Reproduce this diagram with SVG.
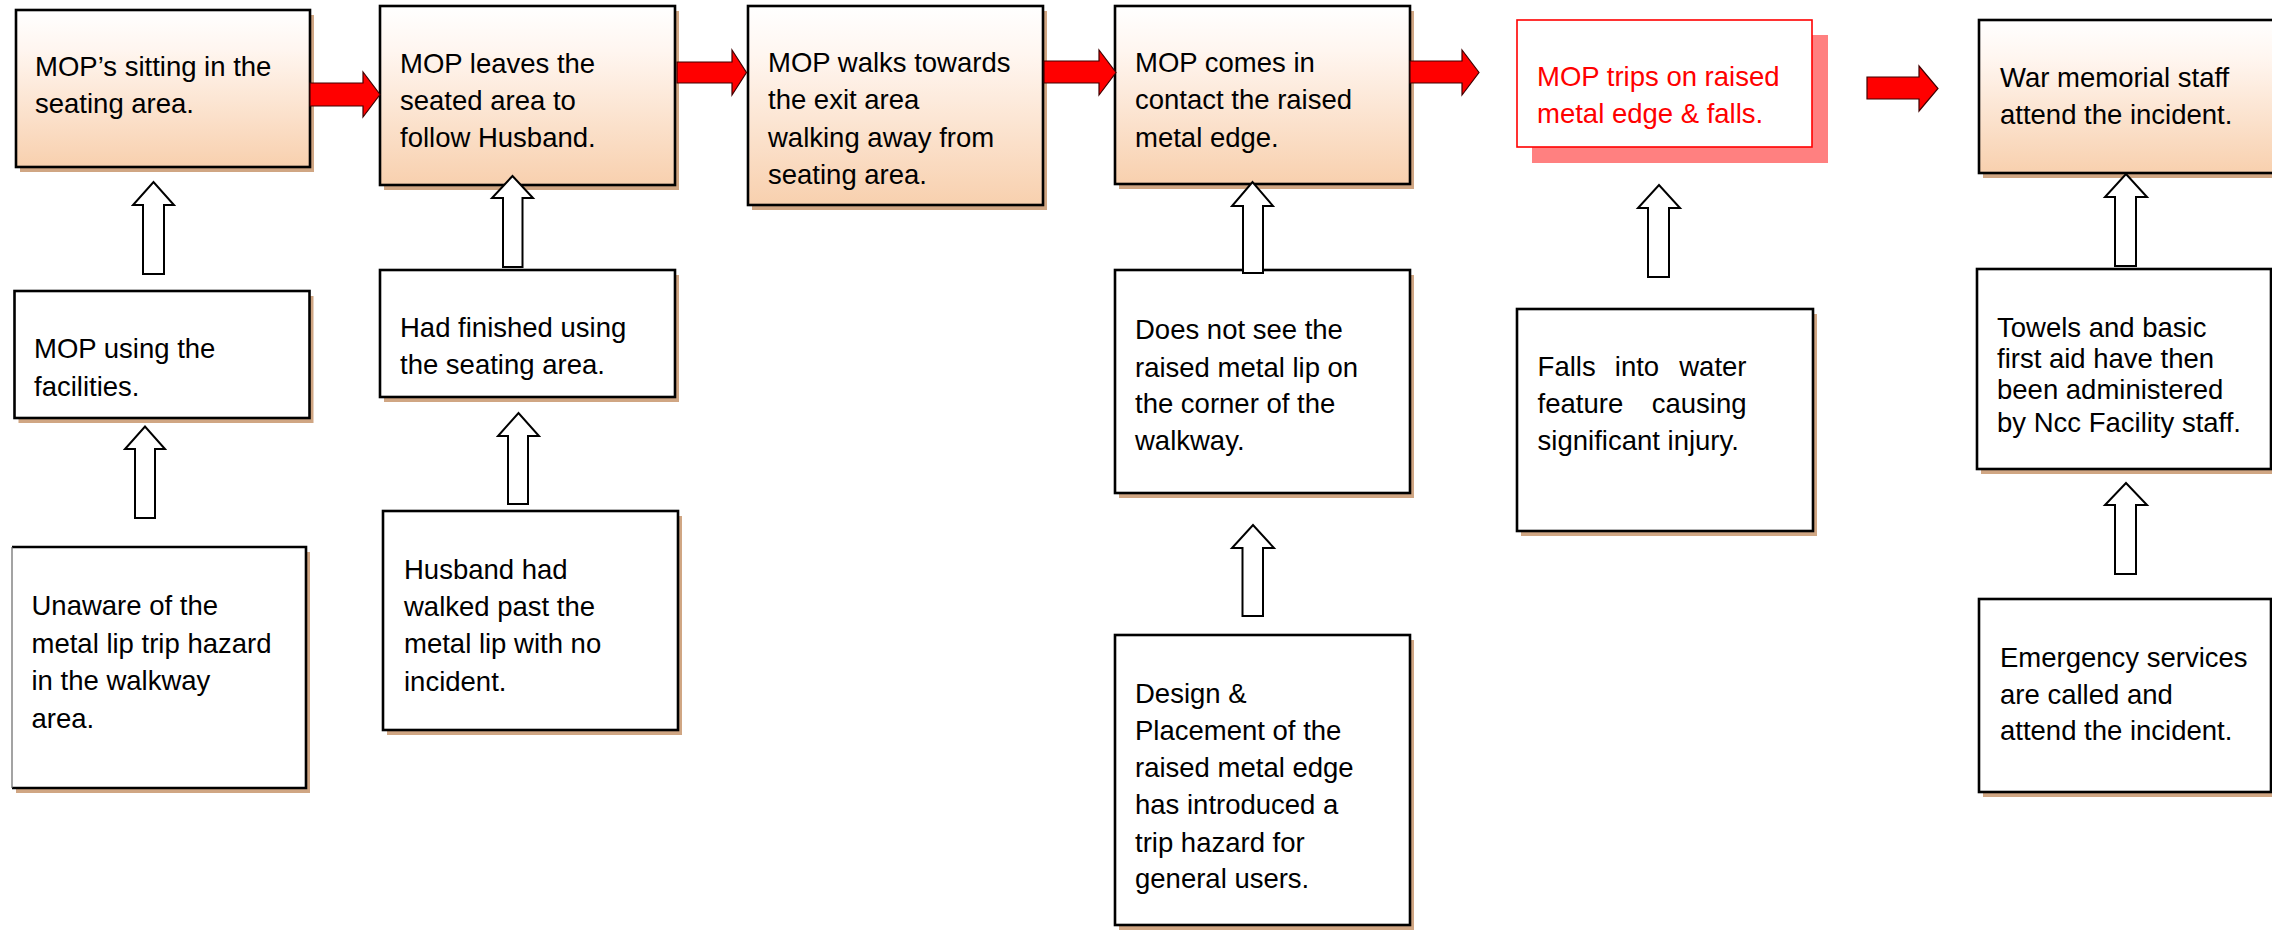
<svg xmlns="http://www.w3.org/2000/svg" width="2272" height="930" viewBox="0 0 2272 930">
<defs>
<linearGradient id="peach" x1="0" y1="0" x2="0" y2="1">
<stop offset="0" stop-color="#ffffff"/>
<stop offset="0.25" stop-color="#fff6f0"/>
<stop offset="1" stop-color="#f8d0ae"/>
</linearGradient>
<style>
.sh{fill:#d0a683}
.bx{fill:#ffffff;stroke:#000;stroke-width:2.6}
.gb{fill:url(#peach);stroke:#000;stroke-width:2.6}
.t{font-family:"Liberation Sans",Arial,sans-serif;font-size:27.5px;fill:#000}
.rt{fill:#ff0000}
.ra{fill:#ff0000;stroke:#400000;stroke-width:1.2;stroke-linejoin:miter}
.ua{fill:#ffffff;stroke:#000;stroke-width:2;stroke-linejoin:miter}
</style>
</defs>
<rect width="2272" height="930" fill="#ffffff"/>
<g id="nodes">
<g id="n1">
<rect class="sh" x="20" y="15" width="294" height="157"/>
<rect class="gb" x="16" y="10" width="294" height="157"/>
<text class="t" x="35" y="76">MOP’s sitting in the</text>
<text class="t" x="35" y="113">seating area.</text>
</g>
<g id="n2">
<rect class="sh" x="384" y="11" width="295" height="179"/>
<rect class="gb" x="380" y="6" width="295" height="179"/>
<text class="t" x="400" y="73">MOP leaves the</text>
<text class="t" x="400" y="110">seated area to</text>
<text class="t" x="400" y="147">follow Husband.</text>
</g>
<g id="n3">
<rect class="sh" x="752" y="11" width="295" height="199"/>
<rect class="gb" x="748" y="6" width="295" height="199"/>
<text class="t" x="768" y="72">MOP walks towards</text>
<text class="t" x="768" y="109">the exit area</text>
<text class="t" x="768" y="147">walking away from</text>
<text class="t" x="768" y="184">seating area.</text>
</g>
<g id="n4">
<rect class="sh" x="1119" y="11" width="295" height="178"/>
<rect class="gb" x="1115" y="6" width="295" height="178"/>
<text class="t" x="1135" y="72">MOP comes in</text>
<text class="t" x="1135" y="109">contact the raised</text>
<text class="t" x="1135" y="147">metal edge.</text>
</g>
<g id="n5">
<rect x="1532" y="35" width="296" height="128" fill="#ff8080"/>
<rect x="1517" y="20" width="295" height="127" fill="#ffffff" stroke="#ff0000" stroke-width="1.6"/>
<text class="t rt" x="1537" y="86">MOP trips on raised</text>
<text class="t rt" x="1537" y="123">metal edge &amp; falls.</text>
</g>
<g id="n6">
<rect class="sh" x="1983" y="25" width="310" height="153"/>
<rect class="gb" x="1979" y="20" width="310" height="153"/>
<text class="t" x="2000" y="87">War memorial staff</text>
<text class="t" x="2000" y="124">attend the incident.</text>
</g>
<g id="n7">
<rect class="sh" x="18.5" y="296" width="295" height="127"/>
<rect class="bx" x="14.5" y="291" width="295" height="127"/>
<text class="t" x="34" y="358">MOP using the</text>
<text class="t" x="34" y="395.5">facilities.</text>
</g>
<g id="n8">
<rect class="sh" x="16" y="552" width="294" height="241"/>
<rect x="12" y="547" width="294" height="241" fill="#ffffff"/>
<path d="M12,547 H306 V788 H12" fill="none" stroke="#000" stroke-width="2.6"/>
<line x1="12" y1="547" x2="12" y2="788" stroke="#666" stroke-width="1.2"/>
<text class="t" x="31.5" y="615">Unaware of the</text>
<text class="t" x="31.5" y="653">metal lip trip hazard</text>
<text class="t" x="31.5" y="690">in the walkway</text>
<text class="t" x="31.5" y="728">area.</text>
</g>
<g id="n9">
<rect class="sh" x="384" y="275" width="295" height="127"/>
<rect class="bx" x="380" y="270" width="295" height="127"/>
<text class="t" x="400" y="336.5">Had finished using</text>
<text class="t" x="400" y="374">the seating area.</text>
</g>
<g id="n10">
<rect class="sh" x="387" y="516" width="295" height="219"/>
<rect class="bx" x="383" y="511" width="295" height="219"/>
<text class="t" x="404" y="579">Husband had</text>
<text class="t" x="404" y="616">walked past the</text>
<text class="t" x="404" y="653">metal lip with no</text>
<text class="t" x="404" y="691">incident.</text>
</g>
<g id="n11">
<rect class="sh" x="1119" y="275" width="295" height="223"/>
<rect class="bx" x="1115" y="270" width="295" height="223"/>
<text class="t" x="1135" y="339">Does not see the</text>
<text class="t" x="1135" y="376.5">raised metal lip on</text>
<text class="t" x="1135" y="412.5">the corner of the</text>
<text class="t" x="1135" y="449.5">walkway.</text>
</g>
<g id="n12">
<rect class="sh" x="1119" y="640" width="295" height="290"/>
<rect class="bx" x="1115" y="635" width="295" height="290"/>
<text class="t" x="1135" y="703">Design &amp;</text>
<text class="t" x="1135" y="740">Placement of the</text>
<text class="t" x="1135" y="777">raised metal edge</text>
<text class="t" x="1135" y="814">has introduced a</text>
<text class="t" x="1135" y="852">trip hazard for</text>
<text class="t" x="1135" y="887.5">general users.</text>
</g>
<g id="n13">
<rect class="sh" x="1521" y="314" width="296" height="222"/>
<rect class="bx" x="1517" y="309" width="296" height="222"/>
<text class="t" x="1537.6" y="376">Falls</text>
<text class="t" x="1614.8" y="376">into</text>
<text class="t" x="1746.5" y="376" text-anchor="end">water</text>
<text class="t" x="1537.6" y="412.5">feature</text>
<text class="t" x="1746.5" y="412.5" text-anchor="end">causing</text>
<text class="t" x="1537.6" y="449.5">significant injury.</text>
</g>
<g id="n14">
<rect class="sh" x="1981" y="274" width="294" height="200"/>
<rect class="bx" x="1977" y="269" width="294" height="200"/>
<text class="t" x="1997" y="337">Towels and basic</text>
<text class="t" x="1997" y="368">first aid have then</text>
<text class="t" x="1997" y="399">been administered</text>
<text class="t" x="1997" y="432">by Ncc Facility staff.</text>
</g>
<g id="n15">
<rect class="sh" x="1983" y="604" width="292" height="193"/>
<rect class="bx" x="1979" y="599" width="292" height="193"/>
<text class="t" x="2000" y="667">Emergency services</text>
<text class="t" x="2000" y="703.6">are called and</text>
<text class="t" x="2000" y="740">attend the incident.</text>
</g>
</g>
<g id="connectors">
<polygon class="ra" points="310,83 363,83 363,72 380,94.5 363,117 363,106 310,106"/>
<polygon class="ra" points="677,62 732,62 732,50 746.5,72.5 732,95 732,83 677,83"/>
<polygon class="ra" points="1044,61 1099,61 1099,50 1116,72.5 1099,95 1099,83 1044,83"/>
<polygon class="ra" points="1410,61 1462,61 1462,50 1479,72.5 1462,95 1462,83 1410,83"/>
<polygon class="ra" points="1867,77 1919,77 1919,66 1938,88.5 1919,111 1919,99 1867,99"/>
<polygon class="ua" points="143,274 143,205 133,205 153.5,182 174,205 164,205 164,274"/>
<polygon class="ua" points="503,267 503,198 492,198 512.5,176 533,198 522.5,198 522.5,267"/>
<polygon class="ua" points="135,518 135,449 125,449 145,426.5 165,449 155,449 155,518"/>
<polygon class="ua" points="508,504 508,436 498,436 518.5,413 539,436 528,436 528,504"/>
<polygon class="ua" points="1243,273 1243,206 1232,206 1252.5,182 1273,206 1263,206 1263,273"/>
<polygon class="ua" points="1242.5,616 1242.5,548 1232,548 1253,525 1274,548 1263,548 1263,616"/>
<polygon class="ua" points="1648,277 1648,208 1638,208 1659,185 1680,208 1669,208 1669,277"/>
<polygon class="ua" points="2115,266 2115,197 2105,197 2126,174 2147,197 2136,197 2136,266"/>
<polygon class="ua" points="2115,574 2115,505 2105,505 2126,483 2147,505 2136,505 2136,574"/>
</g>
</svg>
